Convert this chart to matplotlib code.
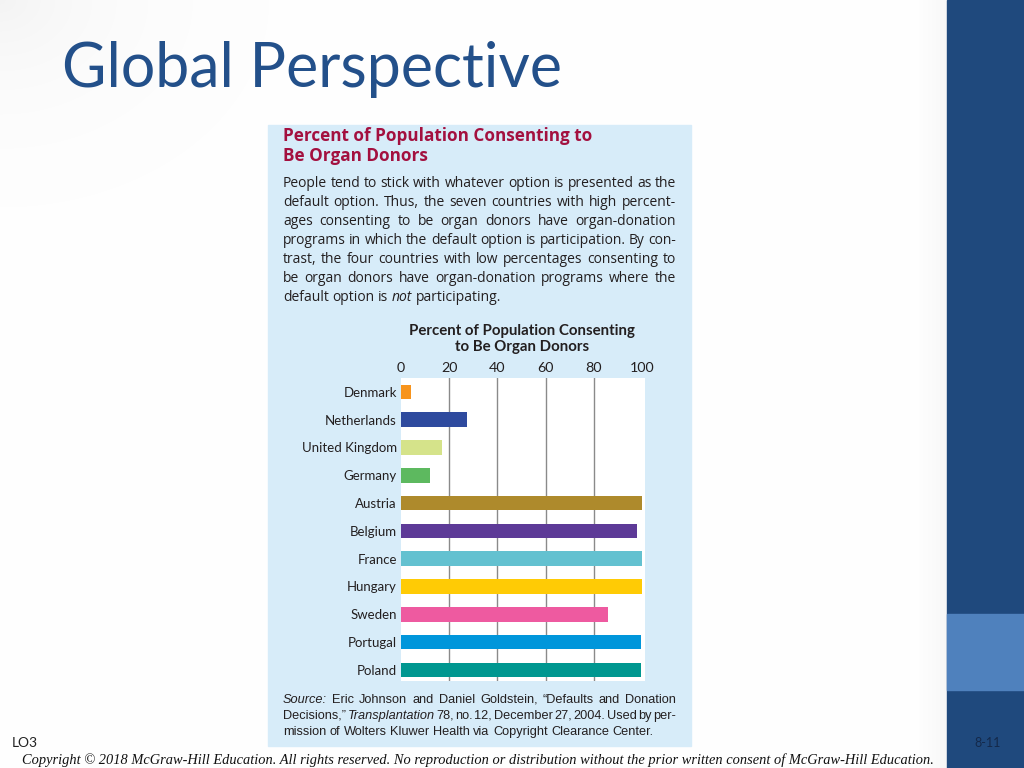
import matplotlib.pyplot as plt
from matplotlib.patches import Rectangle
import numpy as np

# data
countries = ['Denmark', 'Netherlands', 'United Kingdom', 'Germany', 'Austria',
             'Belgium', 'France', 'Hungary', 'Sweden', 'Portugal', 'Poland']
percent = [4.25, 27.5, 17.17, 12.0, 99.98, 98.0, 99.91, 99.997, 85.9, 99.64, 99.5]
bar_colors = ['#F7941D', '#2E4A9E', '#D5E38A', '#5DB95F', '#AE8A2C', '#5D3A97',
              '#63C1D0', '#FFCB05', '#EE5AA0', '#0096DB', '#009790']
ticks = [0, 20, 40, 60, 80, 100]

heading = 'Percent of Population Consenting to\nBe Organ Donors'
# '*' marks an italic word
body = ['People tend to stick with whatever option is presented as the',
        'default option. Thus, the seven countries with high percent-',
        'ages consenting to be organ donors have organ-donation',
        'programs in which the default option is participation. By con-',
        'trast, the four countries with low percentages consenting to',
        'be organ donors have organ-donation programs where the',
        'default option is *not participating.']
source = ['*Source: Eric Johnson and Daniel Goldstein, \u201cDefaults and Donation',
          'Decisions,\u201d *Transplantation 78, no. 12, December 27, 2004. Used by per-',
          'mission of Wolters Kluwer Health via Copyright Clearance Center.']
chart_title = 'Percent of Population Consenting\nto Be Organ Donors'
copyright_text = ('Copyright \u00a9 2018 McGraw-Hill Education. All rights reserved. '
                  'No reproduction or distribution without the prior written consent '
                  'of McGraw-Hill Education.')

fig = plt.figure(figsize=(10.24, 7.68), dpi=100)
renderer = fig.canvas.get_renderer()

# background layer in pixel coordinates
bg = fig.add_axes([0, 0, 1, 1])
bg.set_xlim(0, 1024)
bg.set_ylim(768, 0)
bg.axis('off')

# white slide, faint grey at the top-left corner and next to the sidebar
gx, gy = np.meshgrid(np.arange(0, 947, 2), np.arange(0, 768, 2))
shade = 1 - 0.045 * np.exp(-np.hypot(gx, gy * 1.3) / 110.0)
shade -= 0.03 * np.clip((gx - 915) / 32.0, 0, 1)
bg.imshow(np.dstack([shade] * 3), extent=[0, 947, 768, 0], aspect='auto', zorder=0,
          vmin=0, vmax=1, interpolation='bilinear')

# right sidebar
bg.add_patch(Rectangle((947, 0), 77, 768, color='#1F497D', zorder=1))
bg.add_patch(Rectangle((947, 614), 77, 76, color='#4F81BD', zorder=1))


def fit_text(x0, x1, y, s, size, **kw):
    t = bg.text(x0, y, s, fontsize=size, va='center', ha='left', zorder=3, **kw)
    for _ in range(3):
        w = t.get_window_extent(renderer).width
        t.set_fontsize(t.get_fontsize() * (x1 - x0) / w)
    return t


def justify(x0, x1, y, line, size, family, color, last=False):
    items = []
    for w in line.split(' '):
        st = 'normal'
        if w.startswith('*'):
            w, st = w[1:], 'italic'
        items.append(bg.text(0, y, w, fontsize=size, family=family, style=st,
                             color=color, va='baseline', ha='left', zorder=2))
    widths = [t.get_window_extent(renderer).width for t in items]
    if last:
        a = bg.text(0, 0, 'a a', fontsize=size, family=family)
        b = bg.text(0, 0, 'aa', fontsize=size, family=family)
        gap = a.get_window_extent(renderer).width - b.get_window_extent(renderer).width
        a.remove()
        b.remove()
    else:
        gap = (x1 - x0 - sum(widths)) / (len(items) - 1)
    x = x0
    for t, w in zip(items, widths):
        t.set_x(x)
        x += w + gap


# title
fit_text(62, 562, 70, 'Global Perspective', 44, color='#23508A', family='Lato')

# light blue panel
bg.add_patch(Rectangle((268, 125), 423, 621, color='#D7ECF9', zorder=1))
bg.text(283, 146, heading, fontsize=12.3, fontweight='bold', color='#A3103F',
        family='Open Sans', va='center', ha='left', linespacing=1.15, zorder=2)
for i, line in enumerate(body):
    justify(283, 676, 187 + i * 19.0, line, 10.0, 'Open Sans', '#231F20',
            last=(i == len(body) - 1))

bg.text(522, 339, chart_title, fontsize=10.8, fontweight='bold', color='#231F20',
        family='Lato', va='center', ha='center', linespacing=1.25, zorder=2)

for i, line in enumerate(source):
    justify(283, 676, 703 + i * 16, line, 9.2, 'Liberation Sans', '#231F20',
            last=(i == len(source) - 1))

# footer
bg.text(12, 743, 'LO3', fontsize=10, color='#222222', family='Lato',
        va='center', ha='left', zorder=2)
bg.text(988, 743, '8-11', fontsize=9, color='#14294A', family='Lato',
        va='center', ha='center', zorder=2)
fit_text(22, 940, 760, copyright_text, 10, style='italic', color='#111111',
         family='Liberation Serif')

# bar chart
ax = fig.add_axes([401 / 1024, 1 - 681 / 768, 244 / 1024, 303 / 768])
ax.set_facecolor('white')
y = np.arange(len(countries))
ax.barh(y, percent, height=0.52, color=bar_colors, zorder=3)
ax.set_xlim(0, 101.2)
ax.set_ylim(len(countries) - 0.6, -0.5)
for t in ticks[1:-1]:
    ax.axvline(t, color='#8A8A8A', lw=1.0, zorder=1)
ax.xaxis.tick_top()
ax.set_xticks(ticks)
ax.set_xticklabels([str(t) for t in ticks], fontsize=10.3, family='Lato', color='#231F20')
ax.set_yticks(y)
ax.set_yticklabels(countries, fontsize=9.5, family='Lato', color='#231F20')
ax.tick_params(length=0, axis='x', pad=3)
ax.tick_params(length=0, axis='y', pad=3)
for s in ax.spines.values():
    s.set_visible(False)

fig.savefig('out.png', dpi=100)
